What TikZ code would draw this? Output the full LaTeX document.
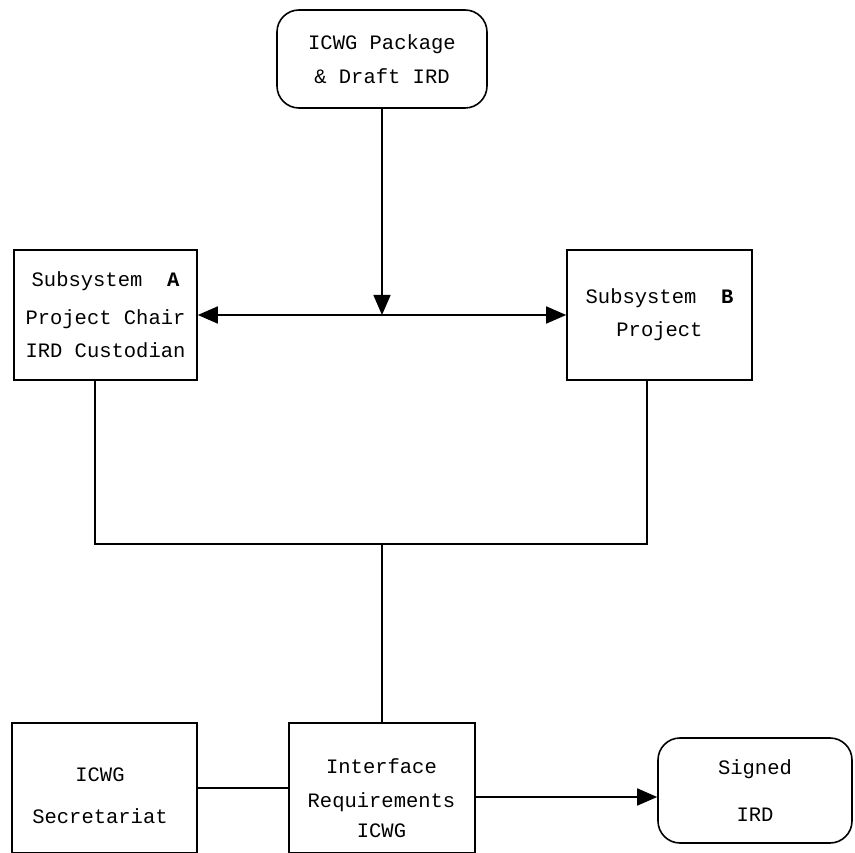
\documentclass[tikz,border=0pt]{standalone}
\usepackage{fontspec}
\setmonofont{Liberation Mono}
\usetikzlibrary{arrows.meta}
\begin{document}
\begin{tikzpicture}[x=1pt,y=-1pt,
  every node/.style={font=\ttfamily\fontsize{20.5}{34}\selectfont, align=center, inner sep=0pt},
  box/.style={draw, line width=1.6pt},
  rbox/.style={box, rounded corners=22pt},
  link/.style={line width=1.6pt},
  tip/.style={link, -{Triangle[length=20pt,width=17pt]}},
  dtip/.style={link, {Triangle[length=20pt,width=17pt]}-{Triangle[length=20pt,width=17pt]}}]
\useasboundingbox (0,0) rectangle (855,853);

% boxes
\node[rbox, minimum width=210pt, minimum height=98pt] (pkg) at (382,59)
  {ICWG Package\\[0pt]\& Draft IRD};
\node[box, minimum width=183pt, minimum height=130pt] (ssa) at (105.5,315)
  {Subsystem\ \ \textbf{A}\\[4pt]Project Chair\\[-1pt]IRD Custodian};
\node[box, minimum width=185pt, minimum height=130pt] (ssb) at (659.5,315)
  {Subsystem\ \ \textbf{B}\\[-1pt]Project};
\node[box, minimum width=185pt, minimum height=130pt] (sec) at (104.5,788)
  {};
\node (sectxt) at (100,796) {ICWG\\[8pt]Secretariat};
\node[box, minimum width=186pt, minimum height=130pt] (irq) at (382,788) {};
\node (irqtxt) at (381.5,798) {Interface\\[0pt]Requirements\\[-4pt]ICWG};
\node[rbox, minimum width=194pt, minimum height=105pt] (sig) at (755,790.5)
  {Signed\\[13pt]IRD};

% junction points of the merge lines
\coordinate (jl) at (95,544);
\coordinate (jr) at (647,544);

% connectors
\draw[dtip] (ssa.east) -- (ssb.west);
\draw[tip] (pkg.south) -- (pkg.south |- ssa.east);
\draw[link] ([xshift=-10.5pt]ssa.south) -- (jl) -- (jr) -- ([xshift=-12.5pt]ssb.south);
\draw[link] (irq.north |- jl) -- (irq.north);
\draw[link] (sec.east) -- (irq.west);
\draw[tip] ([yshift=-9pt]irq.east) -- ([yshift=-9pt]irq.east -| sig.west);
\end{tikzpicture}
\end{document}
